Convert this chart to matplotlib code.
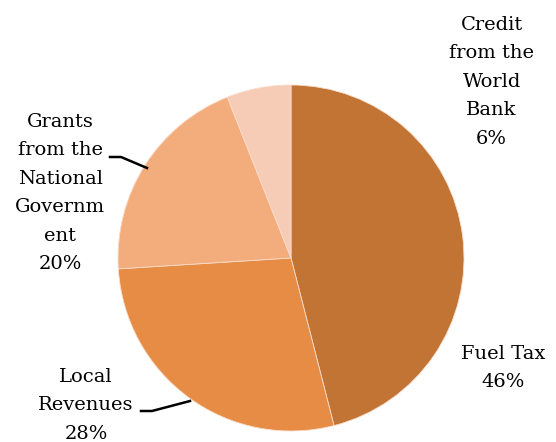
import numpy as np
import matplotlib.pyplot as plt

labels = ['Fuel Tax', 'Local\nRevenues', 'Grants\nfrom the\nNational\nGovernm\nent', 'Credit\nfrom the\nWorld\nBank']
shares = [46, 28, 20, 6]
colors = ['#C17434', '#E68C44', '#F3AD7C', '#F7CCB7']

# label positions in pie units (radius = 1)
label_pos = [(1.225, -0.635), (-1.185, -0.85), (-1.335, 0.375), (1.16, 1.02)]

fig = plt.figure(figsize=(5.56, 4.42), dpi=100)
ax = fig.add_axes([118 / 556, 11 / 442, 346 / 556, 346 / 442])

ax.pie(shares, colors=colors, startangle=90, counterclock=False,
       radius=1, wedgeprops=dict(linewidth=0.6, edgecolor='#F8DCCB'))
ax.set_xlim(-1, 1)
ax.set_ylim(-1, 1)
ax.set_aspect('equal')
ax.axis('off')

for lab, val, (x, y) in zip(labels, shares, label_pos):
    ax.text(x, y, f'{lab}\n{val}%', ha='center', va='center',
            fontsize=14, family='DejaVu Serif', linespacing=1.75,
            clip_on=False)

# leader lines
ax.plot([(110 - 291) / 173, (121 - 291) / 173, (147 - 291) / 173],
        [(258 - 157) / 173, (258 - 157) / 173, (258 - 168) / 173],
        color='black', lw=1.8, clip_on=False)
ax.plot([(141 - 291) / 173, (152 - 291) / 173, (190 - 291) / 173],
        [(258 - 411) / 173, (258 - 411) / 173, (258 - 401) / 173],
        color='black', lw=1.8, clip_on=False)

fig.savefig('out.png', dpi=100)
